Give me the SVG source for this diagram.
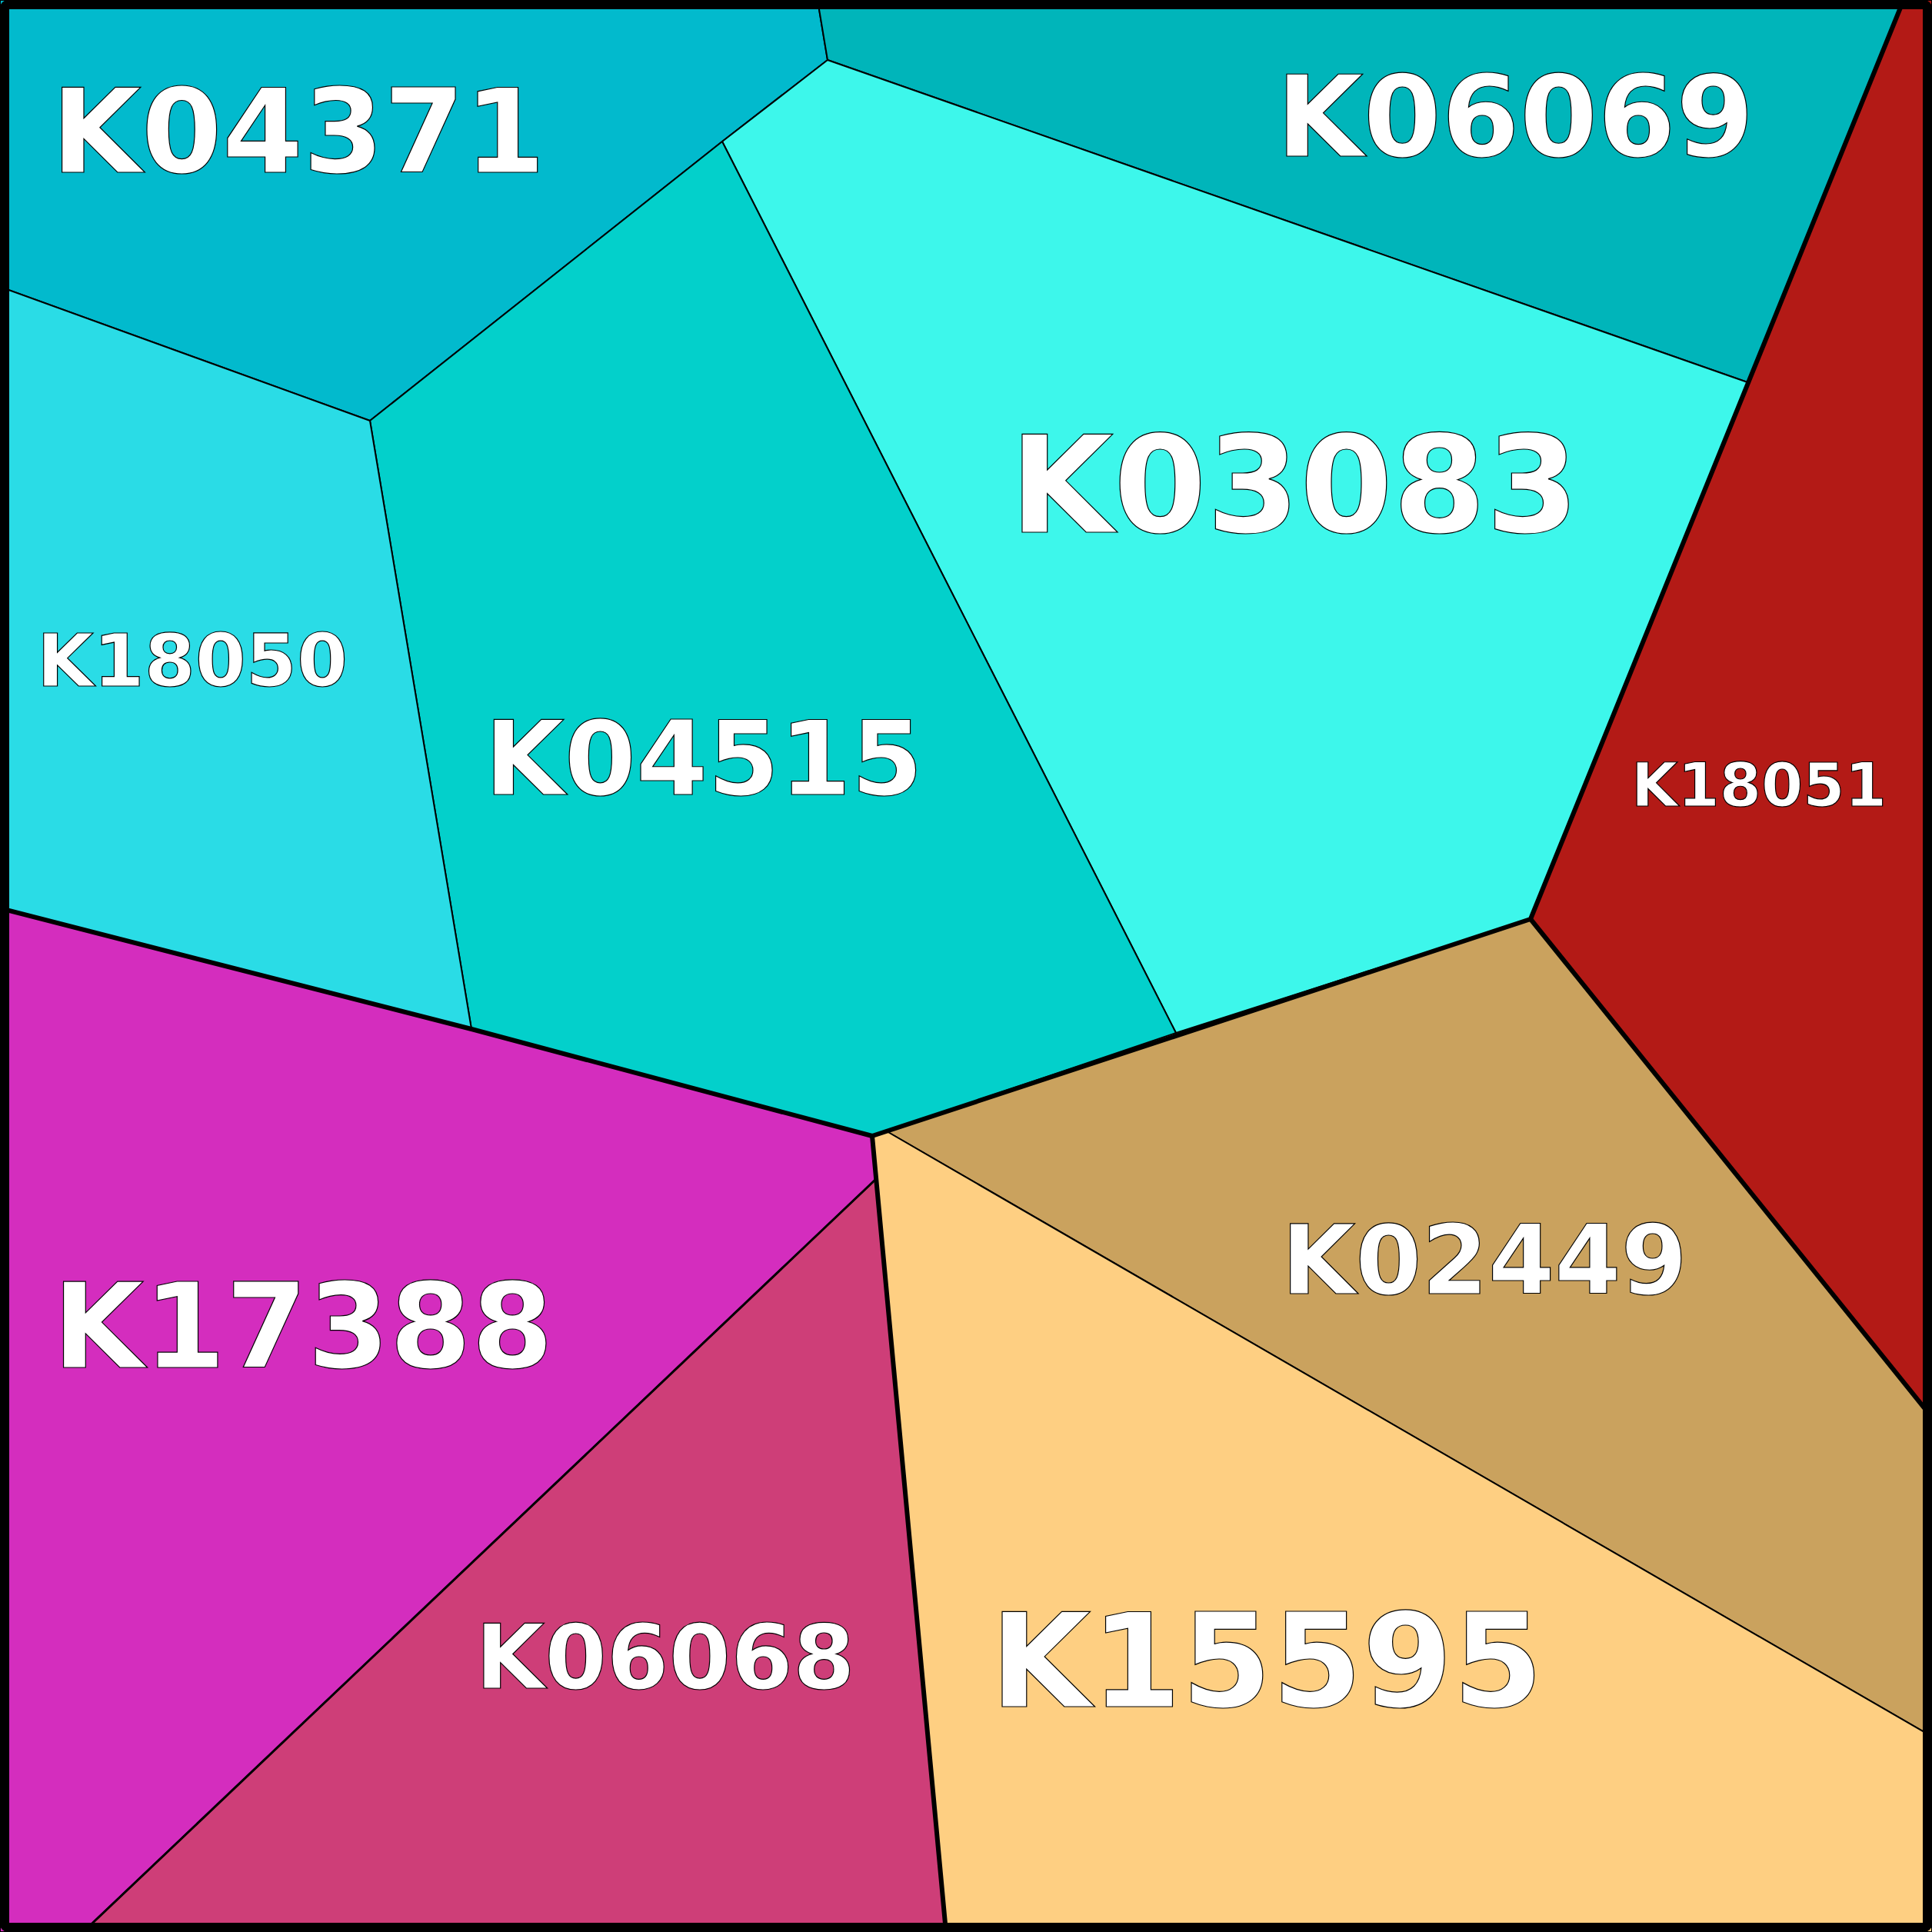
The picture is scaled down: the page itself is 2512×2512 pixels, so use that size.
<svg xmlns="http://www.w3.org/2000/svg" width="2512" height="2512" viewBox="0 0 2512 2512">
<style>
.lbl{font-family:"DejaVu Sans","Liberation Sans",sans-serif;font-weight:bold;fill:#fff;stroke:#000;stroke-width:1.2;text-anchor:middle}
.cell{stroke:#000;stroke-width:2;stroke-linejoin:round}
.thick{stroke:#000;stroke-width:6;fill:none;stroke-linejoin:round;stroke-linecap:round}
</style>
<g id="cells">
<g id="K04371"><polygon class="cell" fill="#02BACD" points="0,0 1063,0 1076,78 939,184 481,547 0,373"/><text class="lbl" x="388" y="224" font-size="151">K04371</text></g>
<g id="K06069"><polygon class="cell" fill="#00B5BA" points="1063,0 2475,0 2272,497 1076,78"/><text class="lbl" x="1970" y="203" font-size="146">K06069</text></g>
<g id="K03083"><polygon class="cell" fill="#3DF7EB" points="1076,78 2272,497 1990,1195 1529,1343 939,184"/><text class="lbl" x="1683" y="692" font-size="174">K03083</text></g>
<g id="K04515"><polygon class="cell" fill="#03D0CB" points="939,184 1529,1343 1134,1477 613,1338 481,547"/><text class="lbl" x="915" y="1033" font-size="134">K04515</text></g>
<g id="K18050"><polygon class="cell" fill="#2ADCE6" points="0,373 481,547 613,1338 0,1181"/><text class="lbl" x="250" y="892" font-size="95">K18050</text></g>
<g id="K18051"><polygon class="cell" fill="#B31A16" points="2475,0 2512,0 2512,1843 1990,1195"/><text class="lbl" x="2287" y="1048" font-size="78">K18051</text></g>
<g id="K02449"><polygon class="cell" fill="#CAA25E" stroke-width="1" points="1990,1195 2512,1843 2512,2258 1153,1471"/><text class="lbl" x="1930" y="1682" font-size="124">K02449</text></g>
<g id="K15595"><polygon class="cell" fill="#FECF82" stroke-width="1" points="1134,1477 1153,1471 2512,2258 2512,2512 1230,2512"/><text class="lbl" x="1647" y="2219" font-size="169">K15595</text></g>
<g id="K17388"><polygon class="cell" fill="#D42DBE" points="0,1181 613,1338 1134,1477 1139,1533 108,2512 0,2512"/><text class="lbl" x="394" y="1778" font-size="153">K17388</text></g>
<g id="K06068"><polygon class="cell" fill="#CE3E78" stroke-width="3" points="1139,1533 1230,2512 108,2512"/><text class="lbl" x="865" y="2195" font-size="116">K06068</text></g>
</g>
<g id="connectors">
<polyline class="thick" points="0,1181 613,1338 1134,1477 1990,1195 2475,0"/>
<polyline class="thick" points="1990,1195 2512,1843"/>
<polyline class="thick" points="1134,1477 1230,2512"/>
<line x1="1139" y1="1533" x2="108" y2="2512" stroke="#000" stroke-width="3"/>
<rect x="6" y="6" width="2500" height="2500" rx="4" fill="none" stroke="#000" stroke-width="12"/>
</g>
</svg>
